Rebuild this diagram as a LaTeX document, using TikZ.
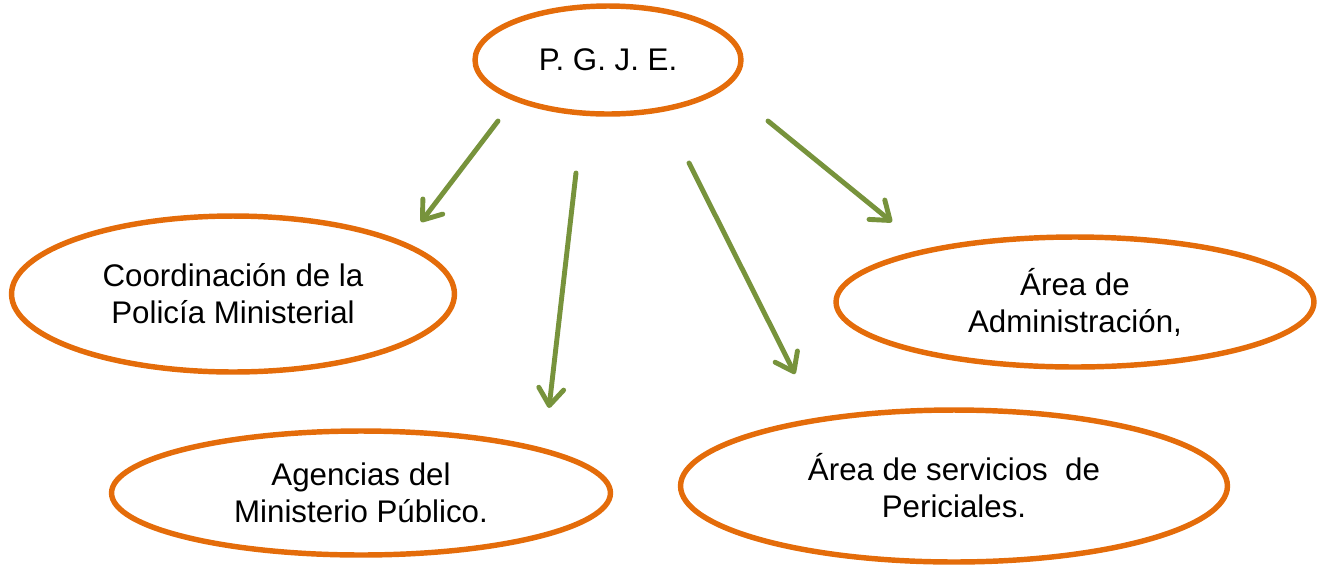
\documentclass[tikz,border=0pt]{standalone}
\usepackage{fontspec}
\setmainfont{Liberation Sans}
\usetikzlibrary{shapes.geometric,arrows.meta}
\definecolor{naranja}{HTML}{E46C0A}
\definecolor{olivo}{HTML}{77933C}

\begin{document}
\begin{tikzpicture}[x=0.02cm,y=-0.02cm,
        burbuja/.style={ellipse, draw=naranja, line width=3.1pt, inner sep=0pt, align=center,
            font=\fontsize{17.8}{21}\selectfont},
        flecha/.style={draw=olivo, line width=2.8pt, line cap=round,
            -{Straight Barb[round, length=0.34cm, width=0.5cm]}}]
        \useasboundingbox (0,0) rectangle (1320,566);

        \node[burbuja, minimum width=5.32cm, minimum height=2.16cm] at (608,60) (pgje) {P. G. J. E.};
        \node[burbuja, minimum width=8.86cm, minimum height=3.12cm] at (233,294) (policia) {Coordinación de la\\Policía Ministerial};
        \node[burbuja, minimum width=9.56cm, minimum height=2.6cm] at (1075,302) (admin) {Área de\\Administración,};
        \node[burbuja, minimum width=9.98cm, minimum height=2.48cm] at (361,493) (agencias) {Agencias del\\Ministerio Público.};
        \node[burbuja, minimum width=10.94cm, minimum height=3.04cm] at (954,486) (periciales) {Área de servicios~ de\\Periciales.};

        \coordinate (p1) at (498,121);
        \coordinate (q1) at (421,222);
        \coordinate (p2) at (576,173);
        \coordinate (q2) at (549,408);
        \coordinate (p3) at (689,163);
        \coordinate (q3) at (795,374);
        \coordinate (p4) at (768,121);
        \coordinate (q4) at (892,222);

        \draw[flecha] (p1) -- (q1);
        \draw[flecha] (p2) -- (q2);
        \draw[flecha] (p3) -- (q3);
        \draw[flecha] (p4) -- (q4);

    \end{tikzpicture}
\end{document}
